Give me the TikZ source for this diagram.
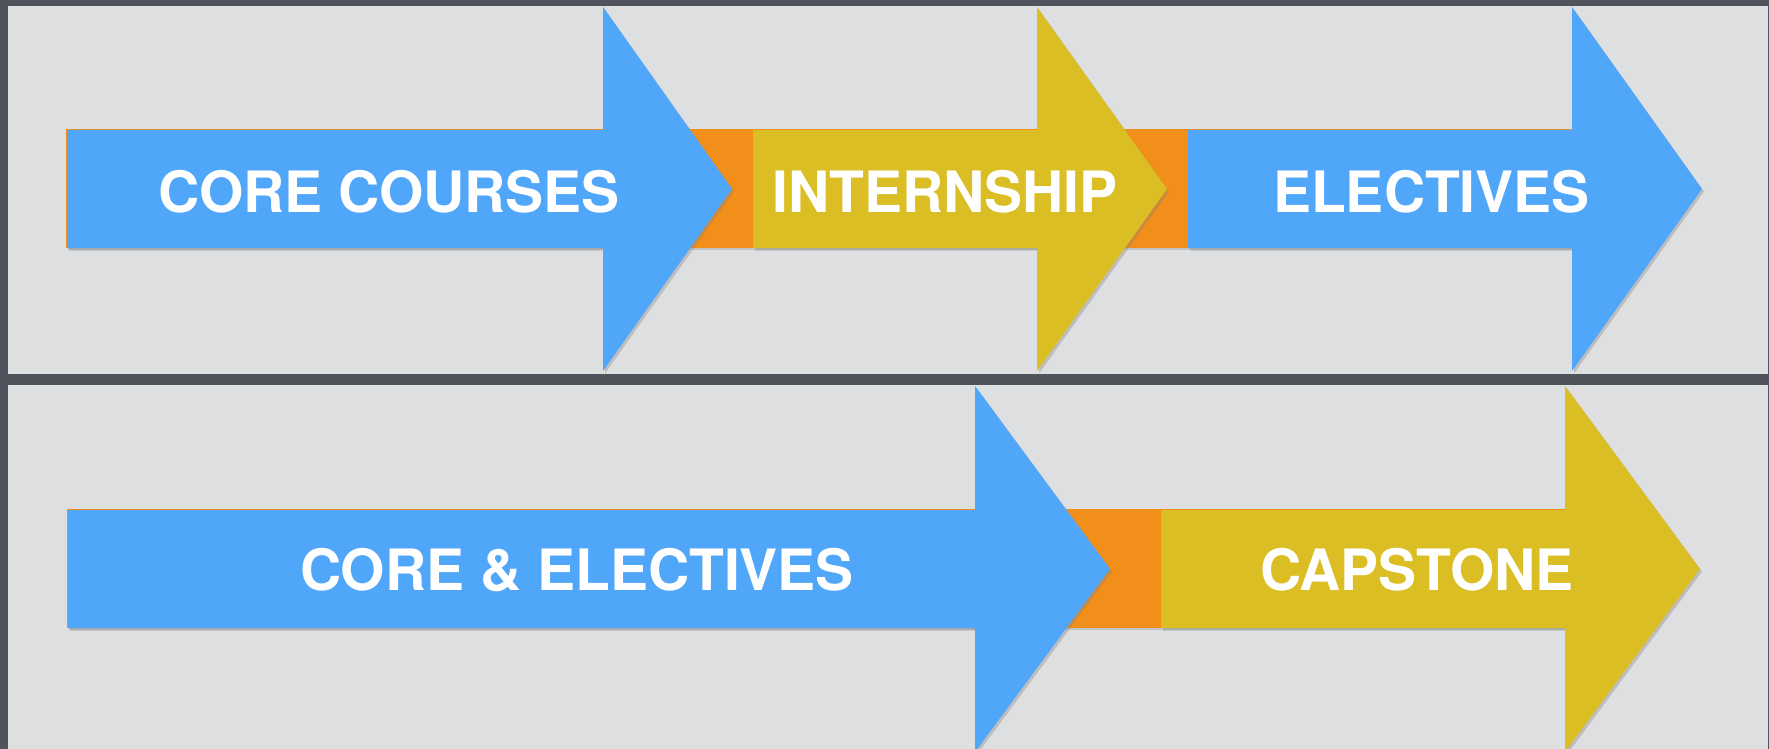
\documentclass[tikz,border=0pt]{standalone}
\usepackage{fontspec}
\setmainfont{TeX Gyre Heros}
\usetikzlibrary{shadows}
\definecolor{arrowblue}{RGB}{80,167,250}
\definecolor{arrowyellow}{RGB}{219,190,36}
\definecolor{barorange}{RGB}{242,143,26}
\definecolor{panelgray}{RGB}{222,223,225}
\definecolor{framedark}{RGB}{79,83,91}
\tikzset{
  panelbox/.style={fill=panelgray},
  orangebar/.style={fill=barorange, drop shadow={shadow xshift=1.5pt, shadow yshift=-2pt, opacity=0.3}},
  bigarrow/.style={fill=#1, drop shadow={shadow xshift=2pt, shadow yshift=-2.5pt, opacity=0.35}},
  steptext/.style={text=white, font=\bfseries\fontsize{57}{60}\selectfont, anchor=base, inner sep=0pt}
}
\begin{document}
\begin{tikzpicture}[x=1pt, y=-1pt]
\useasboundingbox (0,0) rectangle (1769,749);
\fill[framedark] (0,0) rectangle (1769,749);
\fill[panelbox] (8,6) rectangle (1768,374);
\fill[panelbox] (8,385) rectangle (1768,749);
% top row
\begin{scope}
\clip (8,6) rectangle (1768,374);
\path[orangebar] (66,129.5) rectangle (1572,248);
\path[bigarrow=arrowblue] (67,130) -- (603,130) -- (603,7) -- (732,189) -- (603,371) -- (603,248) -- (67,248) -- cycle;
\path[bigarrow=arrowyellow] (753,130) -- (1037,130) -- (1037,7) -- (1167,189) -- (1037,371) -- (1037,248) -- (753,248) -- cycle;
\path[bigarrow=arrowblue] (1188,130) -- (1572,130) -- (1572,7) -- (1702,189) -- (1572,371) -- (1572,248) -- (1188,248) -- cycle;
\end{scope}
\node[steptext] (t1) at (389,212) {CORE COURSES};
\node[steptext] (t2) at (945,212) {INTERNSHIP};
\node[steptext] (t3) at (1431.5,212) {ELECTIVES};
% bottom row
\begin{scope}
\clip (8,385) rectangle (1768,749);
\path[orangebar] (67,509) rectangle (1565,628);
\path[bigarrow=arrowblue] (68,510) -- (975,510) -- (975,386) -- (1110,569) -- (975,752) -- (975,628) -- (68,628) -- cycle;
\path[bigarrow=arrowyellow] (1161,510) -- (1565,510) -- (1565,386) -- (1700,569) -- (1565,752) -- (1565,628) -- (1161,628) -- cycle;
\end{scope}
\node[steptext] (t4) at (577,590) {CORE \& ELECTIVES};
\node[steptext] (t5) at (1417,590.5) {CAPSTONE};
\end{tikzpicture}
\end{document}
